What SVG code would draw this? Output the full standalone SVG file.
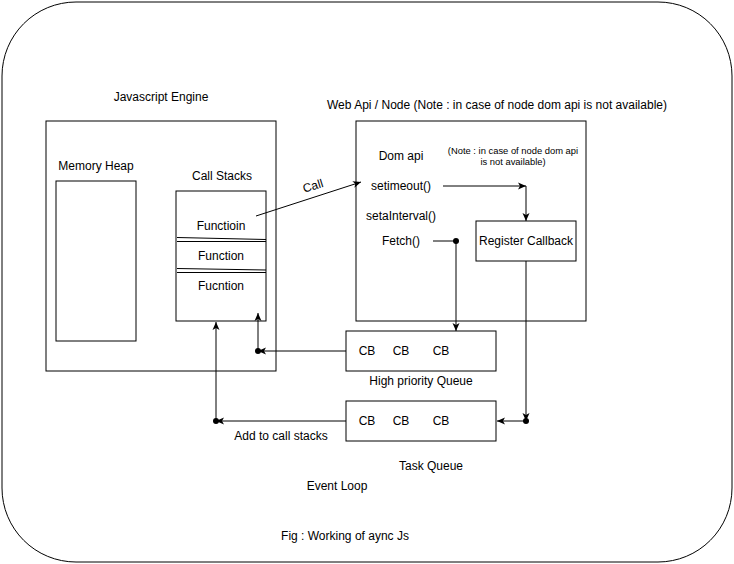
<svg xmlns="http://www.w3.org/2000/svg" width="734" height="564" viewBox="0 0 734 564">
<defs>
<style>
.box{fill:#fff;stroke:#000;stroke-width:1}
.edge{fill:none;stroke:#000;stroke-width:1}
text{font-family:"Liberation Sans",Arial,sans-serif;font-size:12px;fill:#000}
.c{text-anchor:middle}
.s{font-size:9.4px}
</style>
<marker id="arr" markerUnits="userSpaceOnUse" markerWidth="9" markerHeight="8" refX="8" refY="4" orient="auto">
<path d="M0,0.5 L8,4 L0,7.5 L2,4 z" fill="#000"/>
</marker>
<marker id="dot" markerUnits="userSpaceOnUse" markerWidth="8" markerHeight="8" refX="4" refY="4" orient="auto">
<circle cx="4" cy="4" r="3" fill="#000"/>
</marker>
</defs>
<rect width="734" height="564" fill="#fff"/>
<g id="outer"><rect class="box" x="2" y="2" width="730" height="560" rx="74" ry="74"/></g>
<g id="js-engine"><rect class="box" x="46" y="121" width="230" height="250"/><text class="c" x="161" y="101">Javascript Engine</text></g>
<g id="memory-heap"><rect class="box" x="56" y="181" width="80" height="160"/><text class="c" x="96" y="170">Memory Heap</text></g>
<g id="call-stacks"><rect class="box" x="176" y="191" width="90" height="130"/><text class="c" x="222" y="180">Call Stacks</text>
<text class="c" x="221" y="230">Functioin</text>
<line class="edge" x1="177" y1="237.5" x2="266" y2="239.5"/><line class="edge" x1="177" y1="241.5" x2="266" y2="241.5"/>
<text class="c" x="221" y="260">Function</text>
<line class="edge" x1="177" y1="268.5" x2="266" y2="270"/><line class="edge" x1="177" y1="272.5" x2="266" y2="272.5"/>
<text class="c" x="221" y="290">Fucntion</text></g>
<g id="web-api"><rect class="box" x="356" y="121" width="230" height="200"/><text class="c" x="497" y="109">Web Api / Node (Note : in case of node dom api is not available)</text>
<text class="c" x="401" y="160">Dom api</text>
<text class="c s" x="513" y="154">(Note : in case of node dom api</text>
<text class="c s" x="513" y="165">is not available)</text>
<text class="c" x="401" y="190">setimeout()</text>
<text class="c" x="401" y="220">setaInterval()</text>
<text class="c" x="401" y="245">Fetch()</text></g>
<g id="register-callback"><rect class="box" x="476" y="221" width="100" height="40"/><text class="c" x="526" y="245">Register Callback</text></g>
<g id="high-priority-queue"><rect class="box" x="346" y="331" width="150" height="40"/><text class="c" x="367" y="355">CB</text><text class="c" x="401" y="355">CB</text><text class="c" x="441" y="355">CB</text><text class="c" x="421" y="385">High priority Queue</text></g>
<g id="task-queue"><rect class="box" x="346" y="401" width="150" height="40"/><text class="c" x="367" y="425">CB</text><text class="c" x="401" y="425">CB</text><text class="c" x="441" y="425">CB</text><text class="c" x="431" y="470">Task Queue</text></g>
<g id="labels"><text class="c" x="281" y="440">Add to call stacks</text><text class="c" x="337" y="490">Event Loop</text><text class="c" x="345" y="540">Fig : Working of aync Js</text></g>
<g id="connectors">
<line class="edge" x1="256" y1="216" x2="361" y2="182" marker-end="url(#arr)"/>
<text class="c" x="313" y="190" transform="rotate(-17 313 186)">Call</text>
<line class="edge" x1="443" y1="186" x2="526" y2="186" marker-end="url(#arr)"/>
<line class="edge" x1="526" y1="186" x2="526" y2="221" marker-end="url(#arr)"/>
<line class="edge" x1="433" y1="241" x2="456" y2="241" marker-end="url(#dot)"/>
<line class="edge" x1="456" y1="241" x2="456" y2="331" marker-end="url(#arr)"/>
<line class="edge" x1="526" y1="261" x2="526" y2="421" marker-end="url(#arr)"/>
<line class="edge" x1="526" y1="421" x2="497" y2="421" marker-start="url(#dot)" marker-end="url(#arr)"/>
<line class="edge" x1="346" y1="351" x2="258" y2="351" marker-end="url(#arr)"/>
<line class="edge" x1="258" y1="351" x2="258" y2="313" marker-start="url(#dot)" marker-end="url(#arr)"/>
<line class="edge" x1="346" y1="421" x2="216" y2="421" marker-end="url(#arr)"/>
<line class="edge" x1="216" y1="421" x2="216" y2="322" marker-start="url(#dot)" marker-end="url(#arr)"/>
</g>
</svg>
